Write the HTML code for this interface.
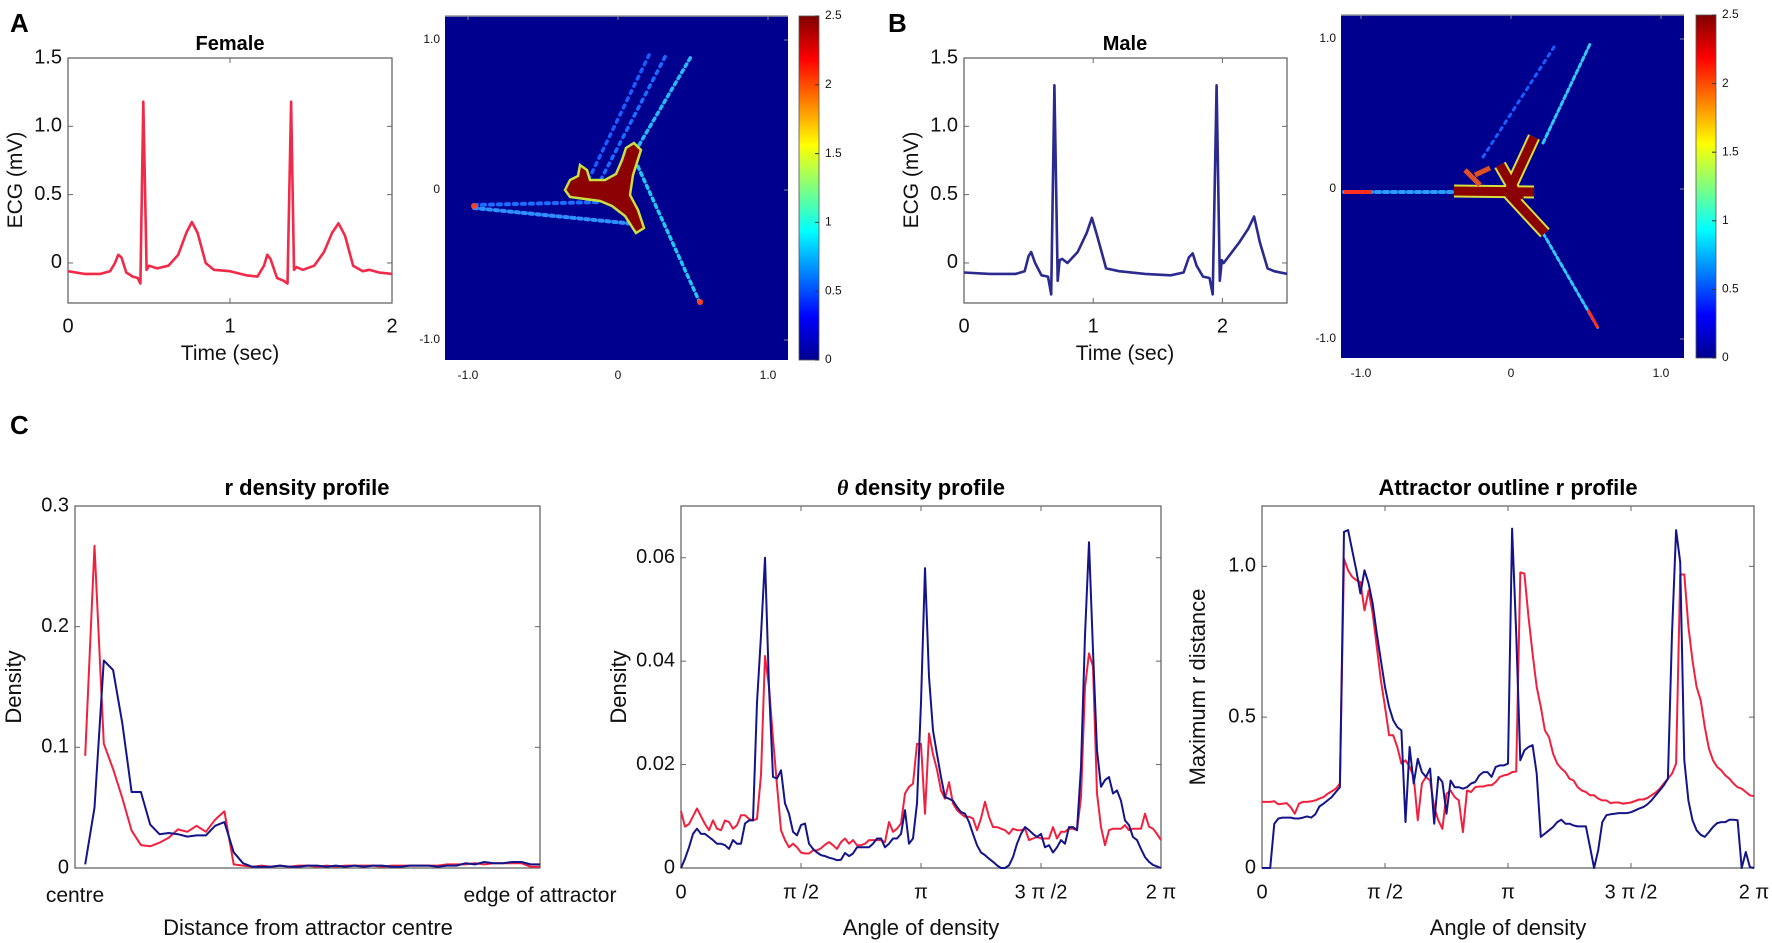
<!DOCTYPE html>
<html><head><meta charset="utf-8"><style>
html,body{margin:0;padding:0;background:#fff;}
svg{display:block;font-family:"Liberation Sans",Arial,sans-serif;}
.tk{font-size:20px;fill:#111;}
.tks{font-size:12px;fill:#111;}
.ttl{font-size:22px;font-weight:bold;fill:#000;}
.ax{font-size:21px;fill:#111;}
.pl{font-size:26px;font-weight:bold;fill:#000;}
</style></head><body>
<svg id="fig" width="1772" height="943" viewBox="0 0 1772 943" xmlns="http://www.w3.org/2000/svg">
<defs>
<linearGradient id="jet" x1="0" y1="1" x2="0" y2="0">
<stop offset="0" stop-color="#00008f"/><stop offset="0.125" stop-color="#0000ff"/><stop offset="0.375" stop-color="#00ffff"/><stop offset="0.625" stop-color="#ffff00"/><stop offset="0.875" stop-color="#ff0000"/><stop offset="1" stop-color="#800000"/>
</linearGradient>
<clipPath id="clipA"><rect x="445" y="16" width="343" height="344"/></clipPath>
<clipPath id="clipB"><rect x="1341" y="15" width="343" height="343"/></clipPath>
</defs>
<text class="pl" x="10" y="32">A</text>
<text class="pl" x="888" y="32">B</text>
<text class="pl" x="10" y="434">C</text>

<text class="ttl" x="230" y="50" text-anchor="middle" style="font-size:20px">Female</text>
<text class="ttl" x="1125" y="50" text-anchor="middle" style="font-size:20px">Male</text>
<text class="ax" x="230" y="360" text-anchor="middle">Time (sec)</text>
<text class="ax" x="1125" y="360" text-anchor="middle">Time (sec)</text>
<text class="ax" transform="translate(22,180) rotate(-90)" text-anchor="middle">ECG (mV)</text>
<text class="ax" transform="translate(918,180) rotate(-90)" text-anchor="middle">ECG (mV)</text>

<text class="ttl" x="307" y="495" text-anchor="middle">r density profile</text>
<text class="ttl" x="921" y="495" text-anchor="middle"><tspan font-family="Liberation Serif" font-style="italic">θ</tspan> density profile</text>
<text class="ttl" x="1508" y="495" text-anchor="middle">Attractor outline r profile</text>
<text class="ax" x="75" y="902" text-anchor="middle">centre</text>
<text class="ax" x="540" y="902" text-anchor="middle">edge of attractor</text>
<text class="ax" x="308" y="935" text-anchor="middle" style="font-size:22px">Distance from attractor centre</text>
<text class="ax" x="921" y="935" text-anchor="middle" style="font-size:22px">Angle of density</text>
<text class="ax" x="1508" y="935" text-anchor="middle" style="font-size:22px">Angle of density</text>
<text class="ax" transform="translate(21,687) rotate(-90)" text-anchor="middle" style="font-size:22px">Density</text>
<text class="ax" transform="translate(626,687) rotate(-90)" text-anchor="middle" style="font-size:22px">Density</text>
<text class="ax" transform="translate(1205,687) rotate(-90)" text-anchor="middle" style="font-size:22px">Maximum r distance</text>
<g id="layer"></g>
</svg>
<script>
const femaleTime=[0,0.1,0.2,0.26,0.29,0.31,0.33,0.36,0.40,0.43,0.447,0.465,0.485,0.50,0.55,0.62,0.68,0.73,0.765,0.80,0.85,0.90,1.0,1.1,1.17,1.21,1.23,1.25,1.29,1.33,1.355,1.377,1.395,1.41,1.45,1.52,1.58,1.63,1.67,1.71,1.76,1.82,1.86,1.92,2.0];
const femaleMV=[-0.06,-0.08,-0.08,-0.06,0.0,0.06,0.04,-0.07,-0.10,-0.11,-0.15,1.18,-0.05,-0.02,-0.04,-0.02,0.06,0.22,0.30,0.22,0.0,-0.05,-0.06,-0.09,-0.10,-0.02,0.06,0.03,-0.11,-0.13,-0.15,1.18,-0.05,-0.03,-0.05,-0.02,0.08,0.22,0.29,0.20,-0.02,-0.06,-0.05,-0.07,-0.08];
const maleTime=[0,0.2,0.4,0.47,0.50,0.52,0.55,0.60,0.65,0.675,0.70,0.725,0.74,0.76,0.80,0.88,0.95,0.99,1.03,1.10,1.20,1.40,1.60,1.70,1.74,1.77,1.80,1.85,1.90,1.925,1.955,1.98,1.995,2.01,2.05,2.13,2.20,2.245,2.29,2.35,2.40,2.50];
const maleMV=[-0.07,-0.08,-0.08,-0.06,0.05,0.08,0.0,-0.09,-0.10,-0.23,1.30,-0.13,0.02,0.03,0.0,0.08,0.22,0.33,0.20,-0.04,-0.06,-0.08,-0.09,-0.07,0.04,0.07,-0.02,-0.10,-0.11,-0.23,1.30,-0.13,0.02,0.0,0.05,0.15,0.25,0.34,0.15,-0.04,-0.06,-0.08];
const ecgYTicks=[0,0.5,1.0,1.5];
const ecgYTickLabels=['0','0.5','1.0','1.5'];
const femaleXTicks=[0,1,2];
const maleXTicks=[0,1,2];
const heatTicks=[-1,0,1];
const heatTickLabels=['-1.0','0','1.0'];
const colorbarTicks=[0,0.5,1,1.5,2,2.5];
const colorbarTickLabels=['0','0.5','1','1.5','2','2.5'];

const rFemale=[0.093,0.267,0.103,0.082,0.058,0.031,0.019,0.018,0.021,0.025,0.032,0.030,0.035,0.030,0.040,0.047,0.003,0.002,0.001,0.002,0.001,0.002,0.001,0.002,0.002,0.001,0.002,0.001,0.002,0.002,0.002,0.002,0.001,0.002,0.002,0.002,0.002,0.002,0.002,0.003,0.003,0.003,0.004,0.003,0.004,0.004,0.004,0.004,0.001,0.001];
const rMale=[0.003,0.050,0.172,0.164,0.120,0.063,0.063,0.036,0.028,0.029,0.028,0.026,0.027,0.027,0.035,0.038,0.013,0.004,0.001,0.001,0.001,0.002,0.001,0.001,0.002,0.002,0.001,0.002,0.001,0.002,0.001,0.002,0.002,0.001,0.001,0.002,0.002,0.002,0.001,0.002,0.002,0.004,0.003,0.005,0.004,0.004,0.005,0.005,0.003,0.003];
const rYTicks=[0,0.1,0.2,0.3];
const rYTickLabels=['0','0.1','0.2','0.3'];

const thetaFemale=[0.011,0.008,0.0085,0.010,0.0115,0.010,0.0085,0.0073,0.0092,0.0076,0.0073,0.0092,0.0089,0.0076,0.0083,0.0102,0.0102,0.0095,0.0092,0.0095,0.018,0.041,0.035,0.025,0.016,0.0073,0.0054,0.004,0.0047,0.004,0.003,0.0028,0.0028,0.0034,0.0034,0.0038,0.0045,0.005,0.0044,0.0037,0.005,0.0057,0.0047,0.0054,0.0044,0.0044,0.0047,0.0054,0.0054,0.0054,0.0054,0.005,0.0089,0.007,0.0076,0.0086,0.0144,0.0157,0.0163,0.024,0.024,0.0105,0.026,0.022,0.019,0.015,0.0134,0.0166,0.0125,0.0112,0.0105,0.0099,0.0099,0.0096,0.0073,0.0096,0.0128,0.0099,0.0079,0.0079,0.0076,0.0073,0.0066,0.0076,0.0073,0.0073,0.0076,0.0054,0.0057,0.006,0.0057,0.0057,0.0057,0.0079,0.0057,0.007,0.007,0.0076,0.0076,0.0073,0.0137,0.035,0.0415,0.039,0.0144,0.0079,0.0044,0.0073,0.0076,0.0076,0.0076,0.0083,0.0073,0.0076,0.0076,0.0076,0.0105,0.008,0.0076,0.0066,0.0054];
const thetaMale=[0,0.0018,0.004,0.0066,0.0076,0.0066,0.0066,0.006,0.0054,0.0047,0.0047,0.0044,0.0037,0.0054,0.0047,0.0047,0.0086,0.0092,0.0092,0.032,0.045,0.060,0.035,0.0176,0.0173,0.0189,0.0125,0.0105,0.007,0.0063,0.0083,0.0086,0.0047,0.0037,0.003,0.0025,0.0023,0.002,0.0018,0.0015,0.0016,0.0029,0.0023,0.0028,0.004,0.004,0.004,0.004,0.0047,0.0057,0.0057,0.004,0.0047,0.0057,0.0057,0.0066,0.0112,0.0047,0.0057,0.0125,0.032,0.058,0.037,0.0266,0.022,0.0176,0.0137,0.0134,0.013,0.0118,0.0108,0.0105,0.0089,0.0066,0.0044,0.003,0.0025,0.0018,0.0012,0.0005,0,0,0.0005,0.0021,0.0047,0.0066,0.0079,0.0073,0.0066,0.006,0.0066,0.004,0.0044,0.003,0.004,0.0054,0.0047,0.0079,0.0079,0.0073,0.0195,0.045,0.063,0.042,0.0228,0.0157,0.017,0.0176,0.0144,0.015,0.013,0.0092,0.0083,0.006,0.0054,0.0037,0.0021,0.0012,0.0006,0.0003,0];
const thetaYTicks=[0,0.02,0.04,0.06];
const thetaYTickLabels=['0','0.02','0.04','0.06'];
const angleTicks=[0,0.5,1,1.5,2];
const angleTickLabels=['0','π /2','π','3 π /2','2 π'];

const outlineFemale=[0.219,0.219,0.219,0.221,0.211,0.213,0.215,0.202,0.18,0.213,0.219,0.219,0.221,0.224,0.23,0.235,0.246,0.254,0.263,0.28,1.025,0.987,0.965,0.954,0.948,0.854,0.92,0.843,0.733,0.622,0.534,0.44,0.44,0.401,0.346,0.357,0.335,0.302,0.158,0.28,0.302,0.29,0.202,0.158,0.13,0.246,0.257,0.235,0.224,0.119,0.257,0.252,0.268,0.27,0.27,0.274,0.274,0.285,0.302,0.307,0.31,0.318,0.32,0.98,0.976,0.832,0.71,0.6,0.534,0.456,0.434,0.379,0.346,0.33,0.318,0.296,0.29,0.268,0.257,0.252,0.241,0.241,0.23,0.224,0.224,0.215,0.217,0.217,0.213,0.215,0.217,0.222,0.227,0.227,0.232,0.241,0.25,0.263,0.28,0.296,0.313,0.346,0.973,0.973,0.8,0.688,0.6,0.556,0.467,0.396,0.357,0.335,0.324,0.307,0.296,0.28,0.268,0.263,0.252,0.241,0.238];
const outlineMale=[0,0,0,0.147,0.164,0.167,0.167,0.167,0.164,0.164,0.167,0.171,0.167,0.178,0.204,0.213,0.224,0.235,0.252,0.268,1.114,1.12,1.053,0.987,0.91,0.987,0.943,0.876,0.777,0.688,0.6,0.534,0.49,0.467,0.456,0.152,0.401,0.28,0.362,0.318,0.302,0.33,0.147,0.302,0.285,0.18,0.29,0.268,0.268,0.263,0.268,0.28,0.285,0.307,0.318,0.318,0.302,0.335,0.34,0.34,0.346,1.125,0.777,0.357,0.39,0.401,0.407,0.313,0.103,0.114,0.125,0.136,0.152,0.16,0.147,0.147,0.141,0.138,0.138,0.138,0.07,0,0.059,0.152,0.175,0.178,0.18,0.182,0.182,0.182,0.185,0.191,0.197,0.202,0.211,0.224,0.241,0.257,0.274,0.296,0.777,1.12,1.014,0.357,0.224,0.158,0.125,0.11,0.103,0.119,0.136,0.149,0.152,0.152,0.16,0.16,0.158,0,0.053,0.003,0];
const outlineYTicks=[0,0.5,1.0];
const outlineYTickLabels=['0','0.5','1.0'];

const NS='http://www.w3.org/2000/svg';
const layer=document.getElementById('layer');
function mk(tag,attrs,parent){const e=document.createElementNS(NS,tag);for(const k in attrs)e.setAttribute(k,attrs[k]);(parent||layer).appendChild(e);return e;}
function lin(d0,d1,r0,r1){return v=>r0+(v-d0)/(d1-d0)*(r1-r0);}
function pathFrom(xs,ys,sx,sy){return xs.map((x,i)=>(i?'L':'M')+sx(x).toFixed(1)+' '+sy(ys[i]).toFixed(1)).join(' ');}
function box(l,t,r,b,name){
  const e=mk('rect',{x:l,y:t,width:r-l,height:b-t,fill:'none',stroke:'#666','stroke-width':1.3});
  
  
  return e;
}
function tickMarks(vals,sc,l,t,r,b,axis){
  vals.forEach(v=>{
    if(axis==='x'){const x=sc(v);mk('line',{x1:x,y1:b,x2:x,y2:b-5,stroke:'#666'});mk('line',{x1:x,y1:t,x2:x,y2:t+5,stroke:'#666'});}
    else{const y=sc(v);mk('line',{x1:l,y1:y,x2:l+5,y2:y,stroke:'#666'});mk('line',{x1:r,y1:y,x2:r-5,y2:y,stroke:'#666'});}
  });
}
function label(txt,x,y,anchor,cls,name){
  const e=mk('text',{x:x,y:y,'text-anchor':anchor,class:cls,'dominant-baseline':'middle'});
  e.textContent=txt;
  
  
  return e;
}
function series(xs,ys,sx,sy,color,w,name){
  const p=mk('path',{d:pathFrom(xs,ys,sx,sy),fill:'none',stroke:color,'stroke-width':w,'stroke-linejoin':'round'});
  
  
  return p;
}
const RED='#f0213f', BLUE='#141489';

// ECG female
(function(){
  const l=68,r=392,t=58,b=303;
  const sx=lin(0,2,l,r), sy=lin(-0.293,1.5,b,t);
  box(l,t,r,b,'female-ecg-axes');
  tickMarks(femaleXTicks,sx,l,t,r,b,'x');tickMarks(ecgYTicks,sy,l,t,r,b,'y');
  femaleXTicks.forEach(v=>label(String(v),sx(v),327,'middle','tk','female-x-tick'));
  ecgYTicks.forEach((v,i)=>label(ecgYTickLabels[i],l-6,sy(v),'end','tk','female-y-tick'));
  series(femaleTime,femaleMV,sx,sy,'#f02a48',2.6,'female-ecg-trace');
})();
// ECG male
(function(){
  const l=964,r=1287,t=58,b=303;
  const sx=lin(0,2.5,l,r), sy=lin(-0.293,1.5,b,t);
  box(l,t,r,b,'male-ecg-axes');
  tickMarks(maleXTicks,sx,l,t,r,b,'x');tickMarks(ecgYTicks,sy,l,t,r,b,'y');
  maleXTicks.forEach(v=>label(String(v),sx(v),327,'middle','tk','male-x-tick'));
  ecgYTicks.forEach((v,i)=>label(ecgYTickLabels[i],l-6,sy(v),'end','tk','male-y-tick'));
  series(maleTime,maleMV,sx,sy,'#2a2a8f',2.6,'male-ecg-trace');
})();

// heatmaps
function heatmap(l,t,r,b,x0,y0,clip,prefix,cbl){
  const bg=mk('rect',{x:l,y:t,width:r-l,height:b-t,fill:'#00008f'});
  
  
  const sx=v=>x0+v*150, sy=v=>y0-v*150;
  heatTicks.forEach((v,i)=>{label(heatTickLabels[i],l-5,sy(v),'end','tks',prefix+'-heat-y-tick');
    label(heatTickLabels[i],sx(v),b+16,'middle','tks',prefix+'-heat-x-tick');
    mk('line',{x1:sx(v),y1:t,x2:sx(v),y2:t+4,stroke:'#888'});mk('line',{x1:r,y1:sy(v),x2:r-4,y2:sy(v),stroke:'#888'});});
  mk('line',{x1:l,y1:t,x2:r,y2:t,stroke:'#999','stroke-width':1.5});
  const cb=mk('rect',{x:cbl,y:t,width:20,height:b-t,fill:'url(#jet)',stroke:'#555','stroke-width':0.8});
  
  
  const cs=lin(0,2.5,b,t);
  colorbarTicks.forEach((v,i)=>{label(colorbarTickLabels[i],cbl+26,cs(v),'start','tks',prefix+'-colorbar-tick');
    mk('line',{x1:cbl+20,y1:cs(v),x2:cbl+16,y2:cs(v),stroke:'#333'});});
  const g=mk('g',{'clip-path':'url(#'+clip+')'});
  
  
  return g;
}
function arm(g,x1,y1,x2,y2,c,w,dash){mk('line',{x1:x1,y1:y1,x2:x2,y2:y2,stroke:c,'stroke-width':w,'stroke-dasharray':dash,'stroke-linecap':'round'},g);}
// A
(function(){
  const g=heatmap(445,16,788,360,618,190,'clipA','female',799);
  arm(g,474,205,600,202,'#1f6bff',4,'3 5');arm(g,474,208,635,224,'#2f8fff',4,'3 4');
  arm(g,585,187,649,55,'#1a5cff',3.5,'3 5');arm(g,597,187,666,55,'#1a6cff',3.5,'3 5');arm(g,632,157,692,55,'#28b8ff',3.5,'3 4');
  arm(g,635,160,700,303,'#22c8f0',3.5,'3 4');
  mk('circle',{cx:474,cy:206,r:3,fill:'#ff4020'},g);mk('circle',{cx:700,cy:302,r:3,fill:'#ff4020'},g);
  mk('path',{d:'M634 143 L641 150 L633 175 L630 195 L638 210 L644 228 L636 233 L625 216 L612 206 L600 201 L585 199 L570 197 L565 190 L570 180 L578 176 L580 165 L587 170 L590 180 L605 180 L616 174 L622 160 L626 148 Z',fill:'#8b0000',stroke:'#c8e040','stroke-width':2.5},g);
})();
// B
(function(){
  const g=heatmap(1341,15,1684,358,1511,189,'clipB','male',1696);
  arm(g,1344,192,1454,192,'#2a9cff',4,'4 4');
  mk('line',{x1:1344,y1:192,x2:1372,y2:192,stroke:'#ff3020','stroke-width':4},g);
  arm(g,1543,143,1591,42,'#30c8ff',3,'4 3');arm(g,1483,157,1554,47,'#1a5cff',3,'3 5');
  arm(g,1543,233,1598,328,'#30c8ff',3,'4 3');
  mk('line',{x1:1588,y1:310,x2:1598,y2:328,stroke:'#ff3020','stroke-width':3},g);
  mk('path',{d:'M1454 191 L1534 192 M1534 137 L1508 193 L1545 233 M1500 165 L1520 200',fill:'none',stroke:'#d8e040','stroke-width':13,'stroke-linejoin':'round'},g);
  mk('path',{d:'M1454 191 L1534 192 M1534 137 L1508 193 L1545 233 M1500 165 L1520 200',fill:'none',stroke:'#8b0000','stroke-width':9,'stroke-linejoin':'round'},g);
  mk('path',{d:'M1465 170 L1480 185 M1475 175 L1490 168',stroke:'#e05020','stroke-width':5},g);
})();

// r density
(function(){
  const l=75,r=540,t=506,b=868;
  const idx=rFemale.map((_,i)=>i);
  const sx=lin(-1.1,49,l,r), sy=lin(0,0.3,b,t);
  box(l,t,r,b,'r-density-axes');
  tickMarks(rYTicks,sy,l,t,r,b,'y');
  rYTicks.forEach((v,i)=>label(rYTickLabels[i],l-6,sy(v),'end','tk','r-y-tick'));
  series(idx,rFemale,sx,sy,RED,2,'r-density-female');
  series(idx,rMale,sx,sy,BLUE,2,'r-density-male');
})();
// theta density
(function(){
  const l=681,r=1161,t=506,b=868;
  const ang=thetaFemale.map((_,i)=>2*i/(thetaFemale.length-1));
  const sx=lin(0,2,l,r), sy=lin(0,0.07,b,t);
  box(l,t,r,b,'theta-density-axes');
  tickMarks(angleTicks,sx,l,t,r,b,'x');tickMarks(thetaYTicks,sy,l,t,r,b,'y');
  thetaYTicks.forEach((v,i)=>label(thetaYTickLabels[i],l-6,sy(v),'end','tk','theta-y-tick'));
  angleTicks.forEach((v,i)=>{const e=label(angleTickLabels[i],sx(v),893,'middle','tk','theta-x-tick');});
  series(ang,thetaFemale,sx,sy,RED,2,'theta-density-female');
  series(ang,thetaMale,sx,sy,BLUE,2,'theta-density-male');
})();
// outline r
(function(){
  const l=1262,r=1754,t=506,b=868;
  const ang=outlineFemale.map((_,i)=>2*i/(outlineFemale.length-1));
  const sx=lin(0,2,l,r), sy=lin(0,1.2,b,t);
  box(l,t,r,b,'outline-r-axes');
  tickMarks(angleTicks,sx,l,t,r,b,'x');tickMarks(outlineYTicks,sy,l,t,r,b,'y');
  outlineYTicks.forEach((v,i)=>label(outlineYTickLabels[i],l-6,sy(v),'end','tk','outline-y-tick'));
  angleTicks.forEach((v,i)=>label(angleTickLabels[i],sx(v),893,'middle','tk','outline-x-tick'));
  series(ang,outlineFemale,sx,sy,RED,2,'outline-r-female');
  series(ang,outlineMale,sx,sy,BLUE,2,'outline-r-male');
})();
</script>
</body></html>
